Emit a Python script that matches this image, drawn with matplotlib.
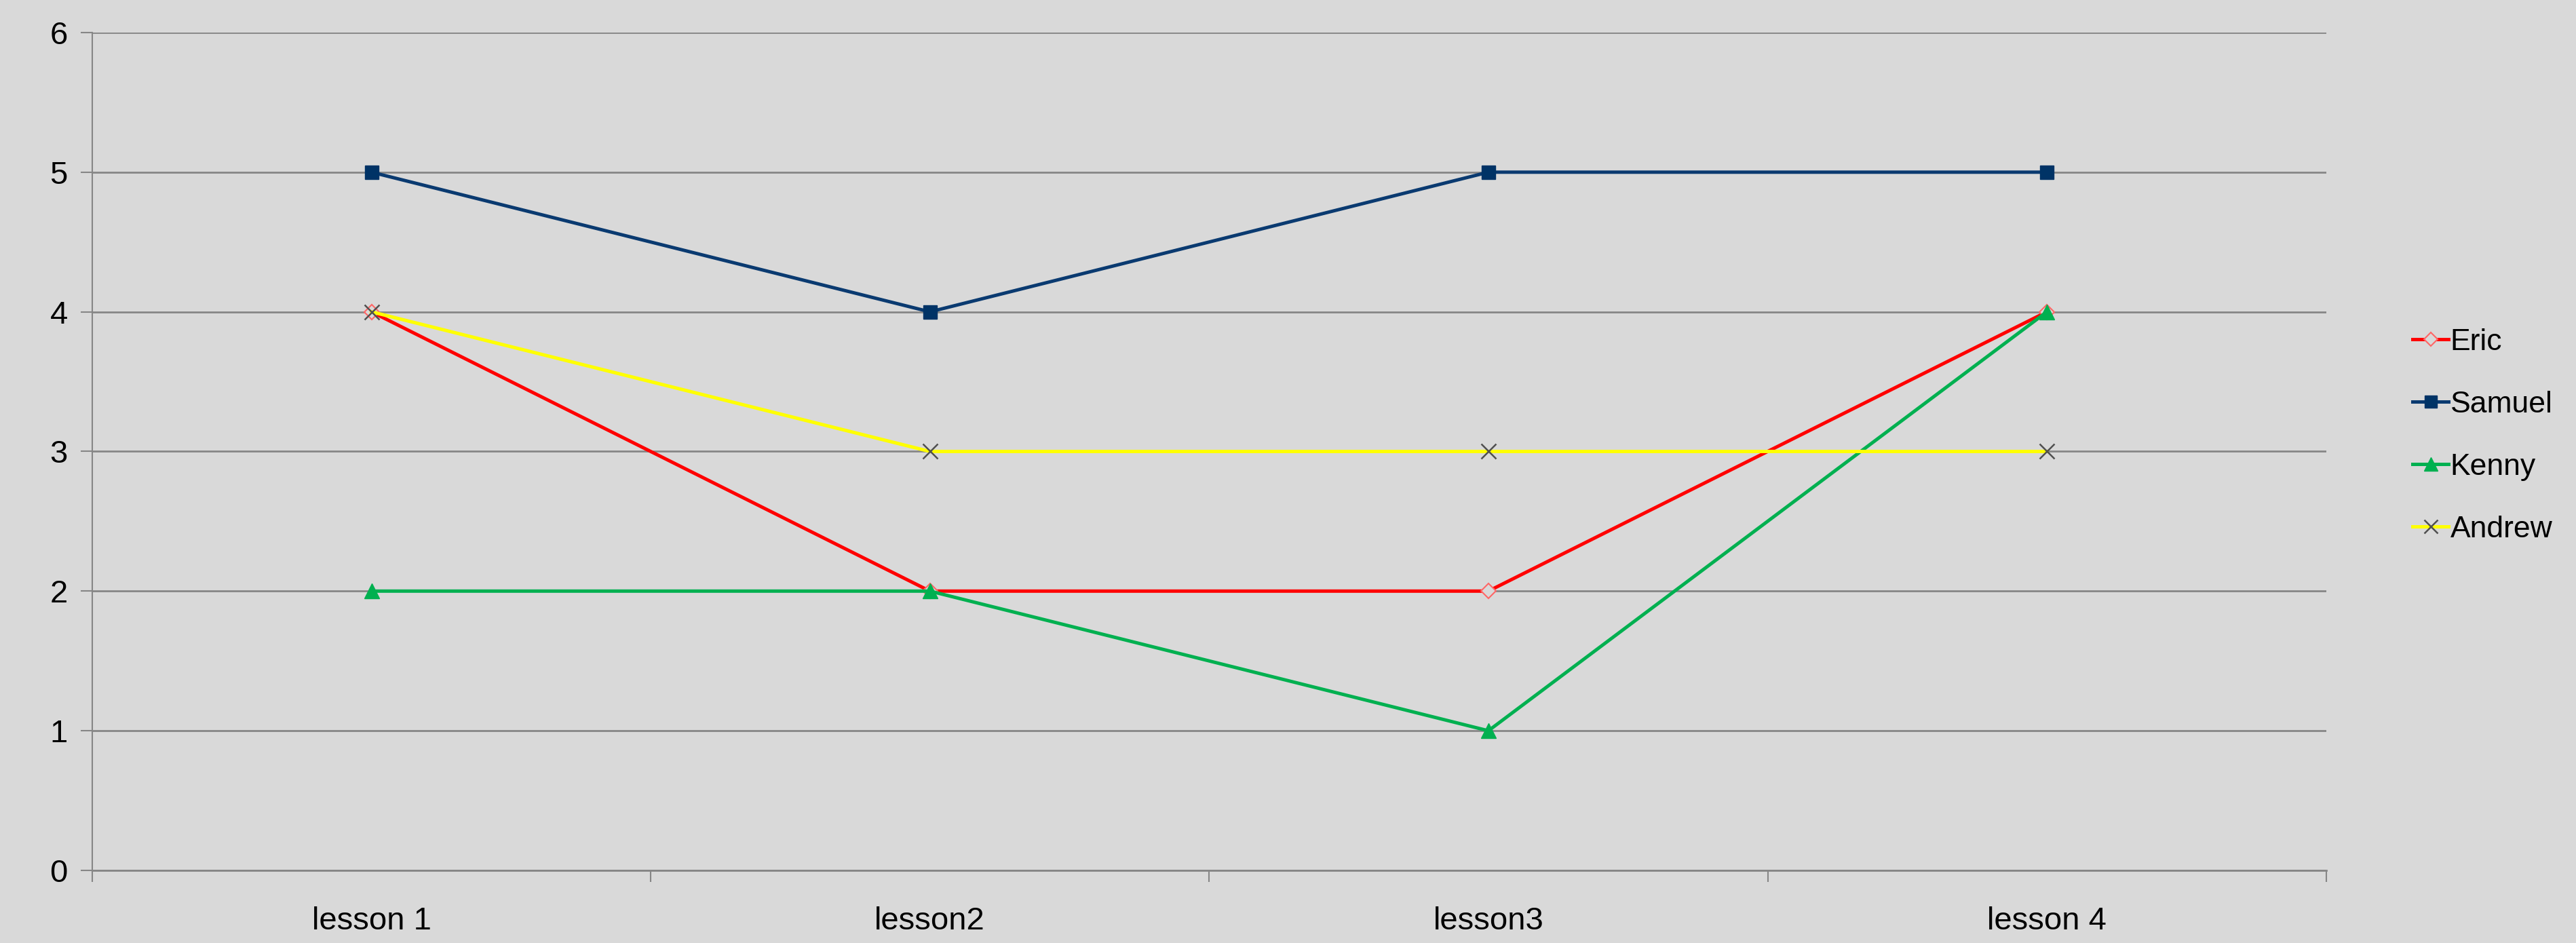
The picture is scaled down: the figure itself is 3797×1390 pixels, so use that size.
import matplotlib.pyplot as plt

lessons = ['lesson 1', 'lesson2', 'lesson3', 'lesson 4']
eric = [4, 2, 2, 4]
samuel = [5, 4, 5, 5]
kenny = [2, 2, 1, 4]
andrew = [4, 3, 3, 3]

plt.rcParams['font.family'] = ['Liberation Sans', 'DejaVu Sans']

bg = '#d9d9d9'
fig = plt.figure(figsize=(37.97, 13.90), dpi=100, facecolor=bg)
ax = fig.add_axes([0.0358, 0.077, 0.8672, 0.8885], facecolor=bg)

x = list(range(len(lessons)))
lw = 3.6
ax.plot(x, eric, color='#ff0000', lw=lw, marker='D', ms=11, mfc=bg,
        mec='#ff6666', mew=1.5, label='Eric', zorder=3)
ax.plot(x, samuel, color='#0a3a70', lw=lw, marker='s', ms=14,
        mfc='#003366', mec='#003366', label='Samuel', zorder=3)
ax.plot(x, kenny, color='#00b050', lw=lw, marker='^', ms=16,
        mfc='#00b050', mec='#00b050', label='Kenny', zorder=3)
ax.plot(x, andrew, color='#ffff00', lw=lw, marker='x', ms=16,
        mec='#505050', mew=1.8, label='Andrew', zorder=3)

ax.set_xlim(-0.5, len(lessons) - 0.5)
ax.set_ylim(0, 6)
ax.set_yticks(range(0, 7))
ax.yaxis.grid(True, color='#868686', lw=2)
ax.set_axisbelow(True)

# category boundaries get the ticks, the names sit between them
ax.set_xticks([i + 0.5 for i in range(-1, len(lessons))])
ax.set_xticks(x, minor=True)
ax.set_xticklabels([''] * (len(lessons) + 1))
ax.set_xticklabels(lessons, minor=True)
ax.tick_params(axis='x', which='major', length=12, width=1.5, color='#868686')
ax.tick_params(axis='x', which='minor', length=0, pad=38, labelsize=34)
ax.tick_params(axis='y', length=12, width=1.5, color='#868686', pad=14,
               labelsize=34)

for s in ['top', 'right']:
    ax.spines[s].set_visible(False)
ax.spines['left'].set_color('#868686')
ax.spines['left'].set_linewidth(1.5)
ax.spines['bottom'].set_color('#868686')
ax.spines['bottom'].set_linewidth(2)

ax.legend(loc='center left', bbox_to_anchor=(0.926, 0.538),
          bbox_transform=fig.transFigure, frameon=False, fontsize=32,
          handlelength=1.2, handletextpad=0.05, labelspacing=1.15,
          markerscale=0.9)

fig.savefig('out.png', dpi=100, facecolor=bg)
